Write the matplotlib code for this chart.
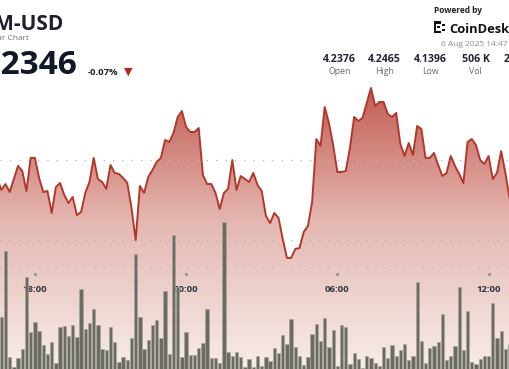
import numpy as np
import matplotlib
matplotlib.use('Agg')
import matplotlib.pyplot as plt
import matplotlib.transforms as mtransforms
from matplotlib.colors import LinearSegmentedColormap
from matplotlib.patches import Rectangle

# ATOM-USD, 10 minute steps, minutes relative to 18:00
times = list(range(-90, 1131, 10))
prices = [
    4.1888, 4.1813, 4.1850, 4.1800, 4.1881, 4.1963, 4.1931, 4.1806, 4.2013, 4.2013,
    4.1888, 4.1800, 4.1806, 4.1669, 4.1831, 4.1856, 4.1781, 4.1731, 4.1769, 4.1656,
    4.1675, 4.1794, 4.1863, 4.2013, 4.1881, 4.1863, 4.1819, 4.1969, 4.1919, 4.1913,
    4.1888, 4.1856, 4.1700, 4.1500, 4.1838, 4.1794, 4.1894, 4.1938, 4.1988, 4.2013,
    4.2125, 4.2113, 4.2169, 4.2269, 4.2306, 4.2206, 4.2175, 4.2175, 4.2200, 4.1906,
    4.1850, 4.1850, 4.1794, 4.1694, 4.1794, 4.1819, 4.2000, 4.1813, 4.1900, 4.1881,
    4.1863, 4.1919, 4.1844, 4.1806, 4.1650, 4.1606, 4.1669, 4.1638, 4.1506, 4.1388,
    4.1388, 4.1444, 4.1450, 4.1550, 4.1588, 4.1738, 4.2131, 4.2088, 4.2331, 4.2231,
    4.2094, 4.1925, 4.1925, 4.1931, 4.2075, 4.2269, 4.2244, 4.2263, 4.2356, 4.2450,
    4.2338, 4.2363, 4.2363, 4.2288, 4.2269, 4.2294, 4.2100, 4.2025, 4.2106, 4.2031,
    4.2213, 4.2194, 4.2013, 4.2013, 4.2044, 4.1969, 4.1900, 4.1919, 4.2025, 4.1963,
    4.1913, 4.1856, 4.2113, 4.2131, 4.2094, 4.2000, 4.1975, 4.2025, 4.1881, 4.1919,
    4.2056, 4.1919, 4.1763,
]
volume = [
    31, 52, 118, 12, 2, 11, 20, 92, 37, 47,
    38, 24, 15, 27, 6, 42, 43, 33, 44, 32,
    80, 40, 46, 60, 44, 20, 19, 42, 27, 7,
    12, 9, 31, 115, 52, 20, 29, 44, 49, 31,
    78, 15, 134, 82, 12, 37, 14, 14, 21, 26,
    60, 11, 11, 6, 147, 17, 13, 17, 12, 2,
    10, 2, 13, 3, 12, 8, 21, 16, 34, 25,
    50, 22, 13, 4, 12, 35, 45, 28, 51, 22,
    39, 3, 44, 42, 5, 16, 10, 1, 13, 11,
    6, 3, 22, 11, 24, 13, 19, 25, 9, 13,
    87, 28, 6, 21, 23, 27, 55, 9, 13, 23,
    82, 19, 58, 7, 5, 10, 13, 13, 66, 31,
    38, 20, 25,
]
tick_times = [0, 360, 720, 1080]
tick_labels = ['18:00', '00:00', '06:00', '12:00']
grid_prices = [4.20, 4.15]

stat_values = ['4.2376', '4.2465', '4.1396', '506 K', '2.13 M']
stat_names = ['Open', 'High', 'Low', 'Vol', 'VWAP']

W, H = 510, 369
fig = plt.figure(figsize=(W / 100, H / 100), dpi=100)
fig.patch.set_facecolor('white')


def fp(x, y):
    # pixel position -> figure fraction
    return x / W, 1 - y / H


ax = fig.add_axes([0, 0, 1, 1])
ax.set_xlim(-83, 1131)
ax.set_ylim(4.069375, 4.30)
ax.axis('off')

# gradient area under the line
cmap = LinearSegmentedColormap.from_list('red_fade', ['#f7ecea', '#e5b9b3', '#bf584d'])
grad = np.linspace(0, 1, 256).reshape(-1, 1)
img = ax.imshow(grad, extent=[-83, 1131, 4.069375, 4.25], origin='lower',
                aspect='auto', cmap=cmap, zorder=1)
area = ax.fill_between(times, prices, 4.0, color='none', lw=0)
img.set_clip_path(area.get_paths()[0], transform=ax.transData)

for g in grid_prices:
    ax.axhline(g, color='#b5b5b5', lw=0.9, ls=(0, (1, 6.5)), zorder=3)

ax.plot(times, prices, color='#b3372b', lw=1.4, zorder=6, solid_joinstyle='round')

# volume bars
ax2 = fig.add_axes([0, 0, 1, 1], sharex=ax)
ax2.set_ylim(0, 369)
ax2.axis('off')
ax2.patch.set_alpha(0)
ax2.bar(times, volume, width=7.8, color='#6b6a63', edgecolor='#a8a79f', linewidth=0.5, zorder=4)

# time axis
trans = mtransforms.blended_transform_factory(ax.transData, ax.transAxes)
ax.plot([0, 1], [1 - 267 / H] * 2, transform=ax.transAxes, color='#b5b5b5',
        lw=0.9, ls=(0, (1, 6.5)), zorder=3)
ax.plot(tick_times, [1 - 274 / H] * len(tick_times), transform=trans, ls='none',
        marker='s', ms=1.2, color='#999999', zorder=3)
for t, lab in zip(tick_times, tick_labels):
    ax.text(t, 1 - 289.5 / H, lab, transform=trans, ha='center', va='center',
            fontsize=6.8, weight='bold', color='#2e3440', family='Open Sans', zorder=7)

# header, left (the reference picture is cropped on the left)
fig.text(*fp(63, 30), 'ATOM-USD', ha='right', va='baseline', fontsize=15,
         weight='bold', color='#19202e', family='Open Sans')
fig.text(*fp(29, 39.5), '24 Hour Bar Chart', ha='right', va='baseline', fontsize=6,
         color='#6b7280', family='Open Sans')
fig.text(*fp(77, 74.5), '4.2346', ha='right', va='baseline', fontsize=24,
         weight='bold', color='#111827', family='Open Sans')
fig.text(*fp(88, 75), '-0.07%', ha='left', va='baseline', fontsize=6.8,
         weight='bold', color='#222222', family='Open Sans')
fig.text(*fp(128, 72), '\u25BC', ha='center', va='center', fontsize=8,
         color='#b3261e', family='DejaVu Sans')

# header, right
fig.text(*fp(434, 13), 'Powered by', ha='left', va='baseline', fontsize=6,
         weight='bold', color='#1f1f1f', family='Open Sans')
for (x, y, w, h) in [(434, 21, 2.5, 12), (434, 21, 7, 2.5), (434, 30.5, 7, 2.5),
                     (437, 26, 3.5, 2), (442.5, 23.5, 2.5, 2.5), (442.5, 28.5, 2.5, 2.5)]:
    fig.patches.append(Rectangle(fp(x, y + h), w / W, h / H, transform=fig.transFigure,
                                 color='#111111', lw=0))
fig.text(*fp(449, 33), 'CoinDesk', ha='left', va='baseline', fontsize=9.3,
         weight='bold', color='#111111', family='Open Sans')
fig.text(*fp(441, 46.5), '6 Aug 2025 14:47', ha='left', va='baseline', fontsize=6,
         color='#8a8a8a', family='Open Sans')

stat_x = [339.5, 384.5, 430.5, 475.5, 521]
for x, v, n in zip(stat_x, stat_values, stat_names):
    fig.text(*fp(x, 62.5), v, ha='center', va='baseline', fontsize=7.6,
             weight='bold', color='#1e2530', family='Open Sans')
    fig.text(*fp(x, 74), n, ha='center', va='baseline', fontsize=6.3,
             color='#6b6b6b', family='Open Sans')

fig.savefig('out.png', dpi=100)
